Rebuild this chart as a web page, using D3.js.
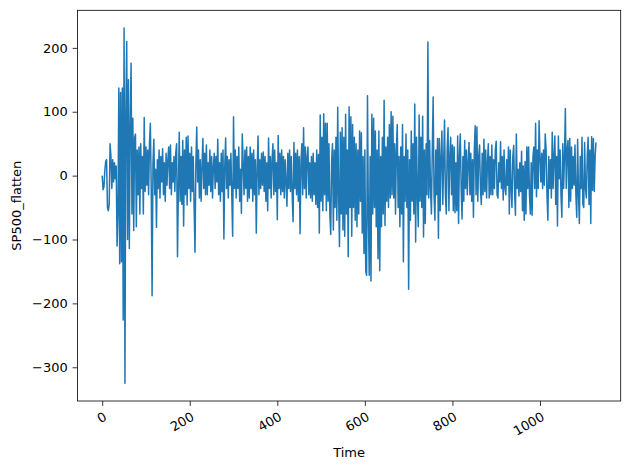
<!DOCTYPE html>
<html>
<head>
<meta charset="utf-8">
<script src="https://cdn.jsdelivr.net/npm/d3@7"></script>
<style>
  html, body { margin: 0; padding: 0; background: #fff; }
  svg { display: block; }
  text { font-family: "DejaVu Sans", sans-serif; fill: #000; }
</style>
</head>
<body>
<div id="chart"></div>
<script>
// ---- data (time step of 2) ----
const timeStart = 0;
const timeStep = 2;
const values = [
  // t 0-48
  0,-22,-18,8,22,25,-50,-55,-45,50,30,-20,25,-10,20,-5,15,-110,-60,137,-138,130,-135,137,-226,
  // t 50-98
  231,-325,100,210,-100,150,-114,80,176,-60,90,-86,60,65,-80,40,-30,45,-60,50,-20,30,-60,91,-25,
  // t 100-148
  45,-15,40,-30,50,82,-20,-188,20,57,-30,10,-81,25,-20,40,-35,30,-10,42,-30,20,-40,35,-15,
  // t 150-198
  25,45,-20,48,-30,20,-10,30,-25,35,50,-127,-20,68,-40,30,-45,55,-79,40,-30,60,-46,62,-20,
  // t 200-248
  35,-40,45,-25,30,-50,-120,20,76,-10,40,-35,25,-40,15,58,-20,35,-30,48,-30,20,-15,40,-25,
  // t 250-298
  30,-35,15,35,-20,30,-10,57,-30,20,-40,35,-25,40,-99,15,59,-20,30,-35,25,-15,35,-30,-95,
  // t 300-348
  92,-20,40,-35,30,-20,45,-40,10,-59,65,20,-30,40,-20,45,-40,30,-35,45,-20,35,-40,40,-30,
  // t 350-398
  25,-90,10,62,-30,25,-20,35,-15,37,-25,30,-40,20,-55,59,-20,30,-35,25,50,-30,40,-25,20,
  // t 400-448
  -69,63,-20,35,-30,40,-25,30,-35,25,-10,-48,35,-20,40,-25,30,-30,-72,52,-20,35,-30,40,-40,
  // t 450-498
  30,-91,20,50,-30,75,-20,45,-35,30,45,-30,20,-35,30,-40,35,-30,20,-45,40,-50,33,-90,95,
  // t 500-548
  -40,60,-55,97,-30,82,-55,82,-40,50,-60,-92,20,50,-85,40,-50,60,-70,107,-30,-111,68,-60,75,
  // t 550-598
  -85,60,-95,96,-60,40,-127,108,-50,92,-95,80,-50,60,-70,50,-80,40,-60,70,-40,67,-90,30,-122,
  // t 600-648
  40,-150,-156,125,-60,-156,30,-165,96,-60,90,-50,70,-80,40,-130,70,-149,30,-80,60,-60,118,-78,45,
  // t 650-698
  -40,60,-50,80,-35,100,-30,93,-35,50,-60,40,80,-50,30,-80,45,-60,80,-135,30,-40,65,-50,40,
  // t 700-748
  -178,25,-70,70,-40,50,-60,112,-104,60,-30,-80,95,-40,60,-50,93,-96,40,-75,50,-30,209,-35,55,
  // t 750-798
  -20,-60,40,123,-30,-70,40,-30,58,-98,58,-55,30,70,-45,20,87,-30,-60,40,75,-55,30,60,-30,
  // t 800-848
  48,-55,45,-58,20,-55,62,-75,30,65,-20,-68,30,-40,55,-20,40,-30,20,52,-30,35,-40,25,-65,
  // t 850-898
  40,78,-30,76,-40,30,48,-20,-45,35,-30,57,-25,40,-35,20,50,-35,30,-30,48,-30,25,-20,40,
  // t 900-948
  54,-30,-35,20,-10,53,-20,30,-38,40,-20,-30,25,-15,45,-60,40,-20,-50,30,47,-25,-62,65,-20,
  // t 950-998
  10,-32,20,-25,38,-55,15,-70,22,-60,45,-20,45,-30,-60,20,-62,30,45,-20,82,-33,40,-20,86,
  // t 1000-1048
  30,-10,35,-20,40,-15,65,40,-30,-70,30,-20,25,-35,68,-20,30,62,-45,30,-79,62,-5,40,-30,
  // t 1050-1098
  -65,50,-20,30,105,-20,40,55,-50,58,-40,45,-20,30,-15,48,-30,-65,57,-30,-75,30,-20,60,-45,
  // t 1100-1128
  -50,52,-20,-35,30,60,-45,40,-75,61,-23,58,-25,30,52
];
const xTicks = [0, 200, 400, 600, 800, 1000];
const yTicks = [-300, -200, -100, 0, 100, 200];
const xLabel = "Time";
const yLabel = "SP500_flatten";

const data = values.map((v, i) => ({ t: timeStart + i * timeStep, v: v }));

// ---- layout ----
const W = 630, H = 470;
const mLeft = 77.5, mRight = 620.7, mTop = 10.3, mBottom = 401;

const tExt = d3.extent(data, d => d.t);
const vExt = d3.extent(data, d => d.v);
const tPad = (tExt[1] - tExt[0]) * 0.05;
const vPad = (vExt[1] - vExt[0]) * 0.05;

const x = d3.scaleLinear().domain([tExt[0] - tPad, tExt[1] + tPad]).range([mLeft, mRight]);
const y = d3.scaleLinear().domain([vExt[0] - vPad, vExt[1] + vPad]).range([mBottom, mTop]);

const svg = d3.select("#chart").append("svg").attr("width", W).attr("height", H);

svg.append("defs").append("clipPath").attr("id", "clip")
  .append("rect").attr("x", mLeft).attr("y", mTop).attr("width", mRight - mLeft).attr("height", mBottom - mTop);

// line
const line = d3.line().x(d => x(d.t)).y(d => y(d.v));
svg.append("path")
  .datum(data)
  .attr("clip-path", "url(#clip)")
  .attr("fill", "none")
  .attr("stroke", "#1f77b4")
  .attr("stroke-width", 1.5)
  .attr("stroke-linejoin", "round")
  .attr("d", line);

// axes
const fs = 13;
const xAxis = d3.axisBottom(x).tickValues(xTicks).tickSize(4.9).tickPadding(0).tickFormat(d3.format("d"));
const gx = svg.append("g").attr("transform", `translate(0,${mBottom})`).call(xAxis);
gx.select(".domain").remove();
gx.selectAll(".tick line").attr("stroke", "#000").attr("stroke-width", 0.8);
gx.selectAll(".tick text")
  .attr("font-size", fs)
  .attr("font-family", "DejaVu Sans")
  .attr("text-anchor", "end")
  .attr("x", 0).attr("y", 0).attr("dy", "0.76em")
  .attr("transform", "translate(0,9.8) rotate(-30)");

const yAxis = d3.axisLeft(y).tickValues(yTicks).tickSize(4.9).tickPadding(4.9)
  .tickFormat(d => d < 0 ? "\u2212" + Math.abs(d) : String(d));
const gy = svg.append("g").attr("transform", `translate(${mLeft},0)`).call(yAxis);
gy.select(".domain").remove();
gy.selectAll(".tick line").attr("stroke", "#000").attr("stroke-width", 0.8);
gy.selectAll(".tick text").attr("font-size", fs).attr("font-family", "DejaVu Sans");

// frame
svg.append("rect")
  .attr("x", mLeft).attr("y", mTop).attr("width", mRight - mLeft).attr("height", mBottom - mTop)
  .attr("fill", "none").attr("stroke", "#000").attr("stroke-width", 0.8);

// labels
svg.append("text")
  .attr("x", (mLeft + mRight) / 2).attr("y", 457)
  .attr("text-anchor", "middle").attr("font-size", fs)
  .text(xLabel);

svg.append("text")
  .attr("transform", `translate(21,${(mTop + mBottom) / 2}) rotate(-90)`)
  .attr("text-anchor", "middle").attr("font-size", fs)
  .text(yLabel);
</script>
</body>
</html>
